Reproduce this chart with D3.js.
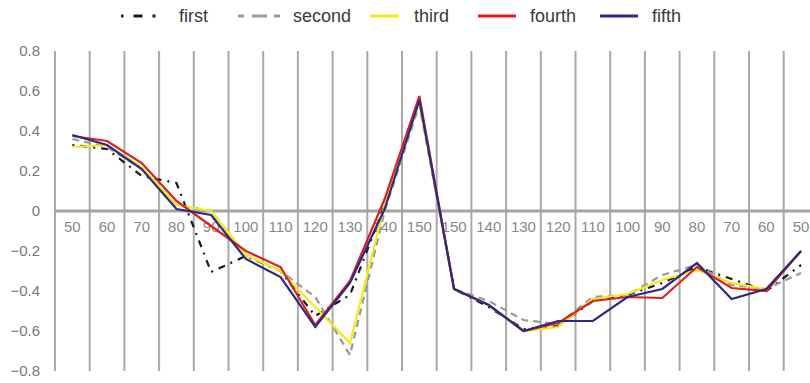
<!DOCTYPE html>
<html><head><meta charset="utf-8">
<script src="https://cdn.jsdelivr.net/npm/d3@7"></script>
<style>
body{margin:0;background:#fff;}
svg{display:block;}
</style></head>
<body>
<svg id="chart" width="810" height="383"></svg>
<script>
const categories = ["50","60","70","80","90","100","110","120","130","140","150","150","140","130","120","110","100","90","80","70","60","50"];
const yTicks = [0.8,0.6,0.4,0.2,0,-0.2,-0.4,-0.6,-0.8];
const seriesNames = ["first","second","third","fourth","fifth"];
const first  = [0.33,0.31,0.175,0.14,-0.305,-0.225,-0.30,-0.525,-0.42,0.03,0.55,-0.39,-0.48,-0.59,-0.575,-0.45,-0.42,-0.36,-0.28,-0.34,-0.40,-0.27];
const second = [0.36,0.32,0.21,0.03,0.0,-0.22,-0.30,-0.43,-0.72,0.0,0.53,-0.39,-0.45,-0.545,-0.565,-0.43,-0.42,-0.32,-0.27,-0.37,-0.39,-0.31];
const third  = [0.32,0.33,0.22,0.03,0.0,-0.22,-0.30,-0.48,-0.66,0.03,0.55,-0.39,-0.47,-0.60,-0.58,-0.44,-0.415,-0.345,-0.295,-0.36,-0.39,-0.20];
const fourth = [0.375,0.35,0.24,0.05,-0.075,-0.20,-0.28,-0.57,-0.35,0.06,0.575,-0.39,-0.47,-0.60,-0.56,-0.45,-0.43,-0.435,-0.28,-0.385,-0.40,-0.20];
const fifth  = [0.38,0.33,0.21,0.01,-0.02,-0.24,-0.33,-0.58,-0.36,0.01,0.555,-0.39,-0.47,-0.60,-0.55,-0.55,-0.43,-0.39,-0.26,-0.44,-0.39,-0.20];

const seriesData = [first, second, third, fourth, fifth];
const styles = [
  {color:"#1a1a1a", width:2.2, dash:"2,6,7,6"},
  {color:"#999999", width:2.2, dash:"7,5"},
  {color:"#f2ec1a", width:2.2, dash:null},
  {color:"#e01e1e", width:2.2, dash:null},
  {color:"#2b2a86", width:2.2, dash:null}
];

const svg = d3.select("#chart");
const idx = d3.range(categories.length);
const x = d3.scaleBand().domain(idx).range([55, 55 + 22*34.7]).padding(0);
const y = d3.scaleLinear().domain([-0.8,0.8]).range([371,51]);

// vertical gridlines at band boundaries
const bounds = idx.map(i => x(i)).concat([x(idx.length-1)+x.bandwidth()]);
svg.append("g").selectAll("line").data(bounds).join("line")
  .attr("x1", d=>d).attr("x2", d=>d)
  .attr("y1", y(0.8)).attr("y2", y(-0.8))
  .attr("stroke", "#a9a9a9").attr("stroke-width", 2);

// category labels (under the lines)
const xAxis = d3.axisBottom(x).tickSize(0).tickPadding(0).tickFormat(i => categories[i]);
const gx = svg.append("g").attr("transform", `translate(0,${y(0)+16})`).call(xAxis);
gx.select(".domain").remove();
gx.selectAll("text").attr("fill","#888").attr("font-size","15px")
  .attr("font-family","'Liberation Sans', Arial, sans-serif").attr("dy","0.32em").attr("y",0);

// zero line
svg.append("line").attr("x1", 55).attr("x2", 810)
  .attr("y1", y(0)).attr("y2", y(0))
  .attr("stroke", "#a4a4a4").attr("stroke-width", 3);

// y axis labels
const yAxis = d3.axisLeft(y).tickValues(yTicks).tickSize(0).tickPadding(0)
  .tickFormat(d => d === 0 ? "0" : d3.format(".1f")(d));
const gy = svg.append("g").attr("transform", "translate(40,0)").call(yAxis);
gy.select(".domain").remove();
gy.selectAll("text").attr("fill","#777").attr("font-size","15px")
  .attr("font-family","'Liberation Sans', Arial, sans-serif");

// lines
const line = d3.line().x((d,i) => x(i) + x.bandwidth()/2).y(d => y(d));
seriesData.forEach((s, k) => {
  svg.append("path").datum(s)
    .attr("fill","none")
    .attr("stroke", styles[k].color)
    .attr("stroke-width", styles[k].width)
    .attr("stroke-linejoin","miter")
    .attr("stroke-dasharray", styles[k].dash)
    .attr("d", line);
});

// legend
const legendSym = [[121,156],[238,280],[370,399],[478,516],[600,638]];
const legendText = [179,293,414,530,652];
const legendDash = ["2.5,10,9,10,3,100","6,8,15,7,6,100",null,null,null];
const lg = svg.append("g");
seriesNames.forEach((n, k) => {
  lg.append("line").attr("x1",legendSym[k][0]).attr("x2",legendSym[k][1]).attr("y1",16).attr("y2",16)
    .attr("stroke", styles[k].color).attr("stroke-width", 3)
    .attr("stroke-dasharray", legendDash[k]);
  lg.append("text").attr("x", legendText[k]).attr("y", 16).attr("dy","0.35em")
    .attr("fill","#3a3a3a").attr("font-size","18px")
    .attr("font-family","'Liberation Sans', Arial, sans-serif")
    .text(n);
});
</script>
</body></html>
